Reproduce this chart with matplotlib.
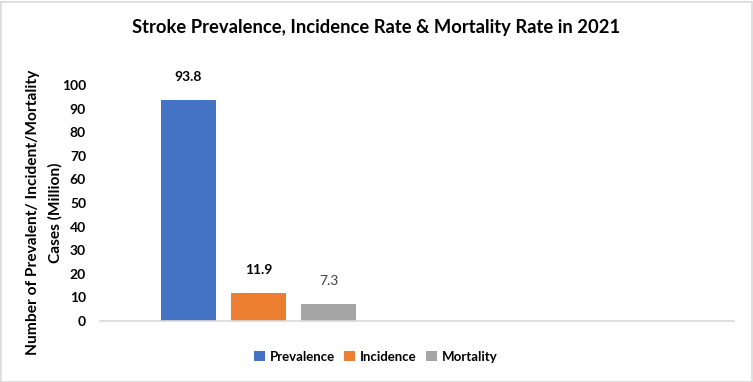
import matplotlib
matplotlib.use("Agg")
import matplotlib.pyplot as plt
from matplotlib.patches import Rectangle

series = ["Prevalence", "Incidence", "Mortality"]
values = [93.8, 11.9, 7.3]
labels = ["93.8", "11.9", "7.3"]
colors = ["#4472C4", "#ED7D31", "#A5A5A5"]
yticks = [0, 10, 20, 30, 40, 50, 60, 70, 80, 90, 100]

plt.rcParams['font.family'] = ['Lato', 'DejaVu Sans']

W, H = 753, 382
fig = plt.figure(figsize=(W / 100, H / 100), dpi=100)
fig.patch.set_facecolor("white")
fig.add_artist(Rectangle((0.5 / W, 0.5 / H), 1 - 2 / W, 1 - 2 / H, transform=fig.transFigure,
                         fill=False, edgecolor="#D9D9D9", linewidth=1.2))

ax = fig.add_axes([100 / W, 1 - 321 / H, 634 / W, (321 - 85) / H])
ax.set_ylim(0, 100)
ax.set_xlim(-0.5, 1.5)

bw = 0.1757
step = 0.2208
for i, (s, v, c, lab) in enumerate(zip(series, values, colors, labels)):
    x = (i - 1) * step
    ax.bar(x, v, width=bw, color=c, label=s, zorder=2)
    bold = i < 2
    ax.annotate(lab, (x, v), xytext=(0, 12), textcoords="offset points", ha="center", va="bottom",
                fontsize=10, fontweight="bold" if bold else "normal",
                color="black" if bold else "#404040")

ax.set_yticks(yticks)
ax.set_yticklabels([str(t) for t in yticks], fontsize=10, fontweight="bold")
ax.tick_params(axis="y", length=0, pad=10)
ax.set_xticks([])
for sp in ["top", "right", "left"]:
    ax.spines[sp].set_visible(False)
ax.spines["bottom"].set_color("#D9D9D9")
ax.spines["bottom"].set_linewidth(1.2)

fig.text(376 / W, 1 - 28 / H, "Stroke Prevalence, Incidence Rate & Mortality Rate in 2021",
         ha="center", va="center", fontsize=13.2, fontweight="bold")

fig.text(33 / W, 1 - 212 / H, "Number of Prevalent/ Incident/Mortality", rotation=90,
         ha="center", va="center", fontsize=11.2, fontweight="bold")
fig.text(55 / W, 1 - 213 / H, "Cases (Million)", rotation=90,
         ha="center", va="center", fontsize=11.2, fontweight="bold")

fig.legend(loc="center", bbox_to_anchor=(376 / W, 1 - 357 / H), ncol=3, frameon=False,
           prop={"weight": "bold", "size": 9.5}, handlelength=0.8, handleheight=0.8,
           handletextpad=0.4, columnspacing=0.7)

fig.savefig("out.png", dpi=100)
